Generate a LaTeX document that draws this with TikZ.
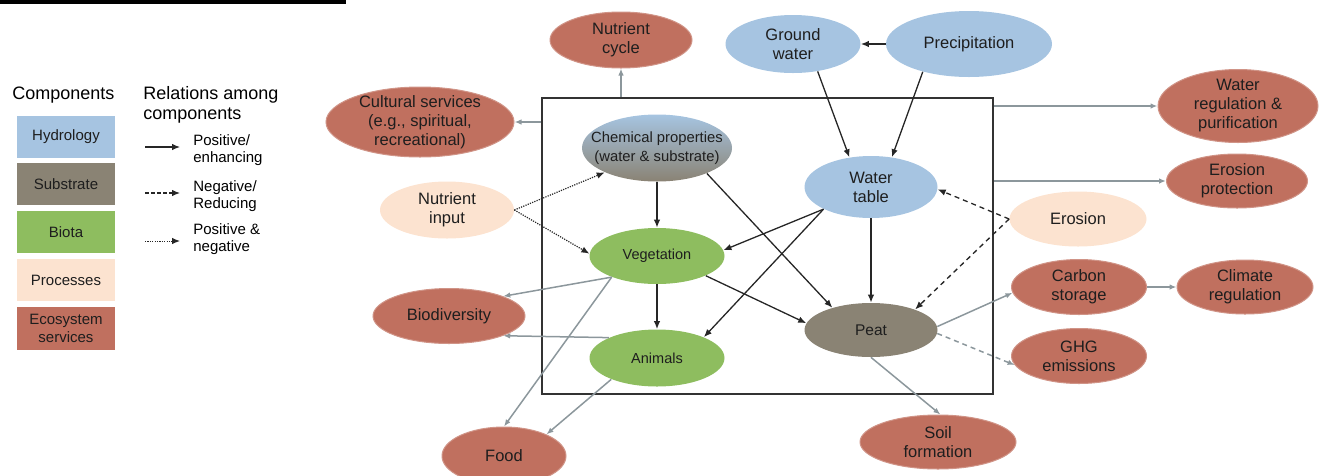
\documentclass[tikz,border=0pt]{standalone}
\usepackage{fontspec}
\setmainfont{Liberation Sans}
\usetikzlibrary{arrows.meta,shapes.geometric}

\definecolor{hydro}{HTML}{A6C4E1}
\definecolor{substr}{HTML}{8A8374}
\definecolor{biota}{HTML}{8EBD5F}
\definecolor{proc}{HTML}{FCE3D0}
\definecolor{ecoserv}{HTML}{C0705F}
\definecolor{linkgray}{HTML}{8C979C}
\definecolor{txt}{HTML}{1E1E1E}

\tikzset{every picture/.style={line width=0.75pt}}
\tikzset{
  sz/.style 2 args={minimum width=#1, minimum height=#2},
  blob/.style={ellipse, inner sep=-30pt, align=center, text=txt, font=\fontsize{16.5}{19}\selectfont},
  hydnode/.style={blob, fill=hydro},
  procnode/.style={blob, fill=proc},
  svcnode/.style={blob, fill=ecoserv, draw=ecoserv!75!white, line width=1pt},
  bionode/.style={blob, fill=biota, font=\fontsize{14.5}{18}\selectfont},
  peatnode/.style={blob, fill=substr, font=\fontsize{15.5}{18}\selectfont},
  legbox/.style={rectangle, inner sep=0pt, minimum width=98pt, minimum height=42pt, align=center, text=txt, font=\fontsize{15}{18}\selectfont},
  legtext/.style={anchor=west, align=left, inner sep=0pt, font=\fontsize{15}{17}\selectfont},
  posrel/.style={draw=black!85, line width=1.3pt, -{Latex[length=8pt,width=6.5pt]}},
  negrel/.style={posrel, dash pattern=on 5pt off 4pt},
  mixrel/.style={posrel, line width=1.2pt, dash pattern=on 1.2pt off 1.2pt},
  svc/.style={draw=linkgray, line width=1.5pt, -{Latex[length=7pt,width=5.5pt]}},
  svcneg/.style={svc, dash pattern=on 5pt off 4pt}
}

\begin{document}
\begin{tikzpicture}[x=1pt,y=1pt,yscale=-1,xscale=1]
\useasboundingbox (0,0) rectangle (1323,475);
%Shape: top rule
\fill (0,0) rectangle (346,3.5);

% Legend: components
\node[anchor=west, inner sep=0pt, font=\fontsize{18}{20}\selectfont] (comphead) at (12,95) {Components};
\node[legbox, fill=hydro] (lhyd) at (66,136.5) {Hydrology};
\node[legbox, fill=substr] (lsub) at (66,184) {Substrate};
\node[legbox, fill=biota] (lbio) at (66,232) {Biota};
\node[legbox, fill=proc] (lproc) at (66,280) {Processes};
\node[legbox, fill=ecoserv, minimum height=43pt] (leco) at (66,328.5) {Ecosystem\\services};

% Legend: relations
\node[anchor=west, align=left, inner sep=0pt, font=\fontsize{18}{20}\selectfont] (relhead) at (143,105) {Relations among\\components};
\coordinate (lpa) at (145,147);
\coordinate (lpb) at (180,147);
\coordinate (lna) at (145,193);
\coordinate (lnb) at (180,193);
\coordinate (lma) at (145,241);
\coordinate (lmb) at (180,241);
\draw[posrel, line width=1.1pt] (lpa) -- (lpb);
\draw[negrel, line width=1.1pt, dash pattern=on 3.5pt off 2.5pt] (lna) -- (lnb);
\draw[mixrel, line width=1pt] (lma) -- (lmb);
\node[legtext] (lpt) at (193,150) {Positive/\\enhancing};
\node[legtext] (lnt) at (193,196) {Negative/\\Reducing};
\node[legtext] (lmt) at (193,239) {Positive \&\\negative};

%Shape: Rectangle (system boundary)
\node[draw=black!80, line width=2pt, rectangle, inner sep=0pt, minimum width=451pt, minimum height=296pt] (frame) at (767.5,246) {};

%Shape: Ellipse nodes
\node[svcnode, sz={142pt}{56pt}] (ncycle) at (621,40) {Nutrient\\cycle};
\node[hydnode, sz={135pt}{58pt}] (gwater) at (793,44) {Ground\\water};
\node[hydnode, sz={166pt}{66pt}] (precip) at (969,44) {Precipitation};
\node[svcnode, sz={188pt}{70pt}] (cultural) at (420,122) {Cultural services\\(e.g., spiritual,\\recreational)};
\node[blob, sz={150pt}{67pt}, top color=hydro, bottom color=substr, font=\fontsize{14.8}{18.5}\selectfont] (chem) at (657,148) {Chemical properties\\(water \& substrate)};
\node[hydnode, sz={133pt}{62pt}] (wtable) at (871,187) {Water\\table};
\node[svcnode, sz={160pt}{73pt}] (wreg) at (1238,106) {Water\\regulation \&\\purification};
\node[svcnode, sz={141pt}{54pt}] (eprot) at (1237,181) {Erosion\\protection};
\node[procnode, sz={134pt}{57pt}] (ninput) at (447,210) {Nutrient\\input};
\node[procnode, sz={137pt}{55pt}] (erosion) at (1078,219) {Erosion};
\node[bionode, sz={135pt}{56pt}] (veg) at (657,256) {Vegetation};
\node[svcnode, sz={135pt}{55pt}] (cstor) at (1079,287) {Carbon\\storage};
\node[svcnode, sz={136pt}{54pt}] (climate) at (1245,287) {Climate\\regulation};
\node[svcnode, sz={152pt}{55pt}] (biodiv) at (449,316) {Biodiversity};
\node[peatnode, sz={133pt}{54pt}] (peat) at (871,330) {Peat};
\node[bionode, sz={135pt}{57pt}] (animals) at (657,358) {Animals};
\node[svcnode, sz={135pt}{55pt}] (ghg) at (1079,356) {GHG\\emissions};
\node[svcnode, sz={156pt}{54pt}] (soil) at (938,442) {Soil\\formation};
\node[svcnode, sz={124pt}{58pt}] (food) at (504,456) {Food};

% Relations among components
\draw[posrel] (precip.west) -- (gwater.east);
\draw[posrel] (gwater.312) -- (wtable.126);
\draw[posrel] (precip.211) -- (wtable.55);
\draw[posrel] (chem.south) -- (veg.north);
\draw[posrel] (chem.333) -- (peat.150);
\draw[posrel] (wtable.205) -- (veg.5);
\draw[posrel] (wtable.205) -- (animals.24);
\draw[posrel] (wtable.south) -- (peat.north);
\draw[posrel] (veg.south) -- (animals.north);
\draw[posrel] (veg.338) -- (peat.174);
\draw[negrel] (erosion.west) -- (wtable.-2);
\draw[negrel] (erosion.west) -- (peat.25);
\draw[mixrel] (ninput.east) -- (chem.205);
\draw[mixrel] (ninput.east) -- (veg.178);

% Ecosystem services
\draw[svc] (ncycle |- frame.north) -- (ncycle.south);
\draw[svc] (frame.west |- cultural) -- (cultural.east);
\draw[svc] (frame.east |- wreg) -- (wreg.west);
\draw[svc] (frame.east |- eprot) -- (eprot.west);
\draw[svc] (veg.205) -- (biodiv.20);
\draw[svc] (animals.157) -- (biodiv.340);
\draw[svc] (veg.205) -- (food.north);
\draw[svc] (animals.205) -- (food.27);
\draw[svc] (peat.3) -- (cstor.185);
\draw[svcneg] (peat.-3) -- (ghg.188);
\draw[svc] (peat.south) -- (soil.85);
\draw[svc] (cstor.east) -- (climate.west);
\end{tikzpicture}
\end{document}
